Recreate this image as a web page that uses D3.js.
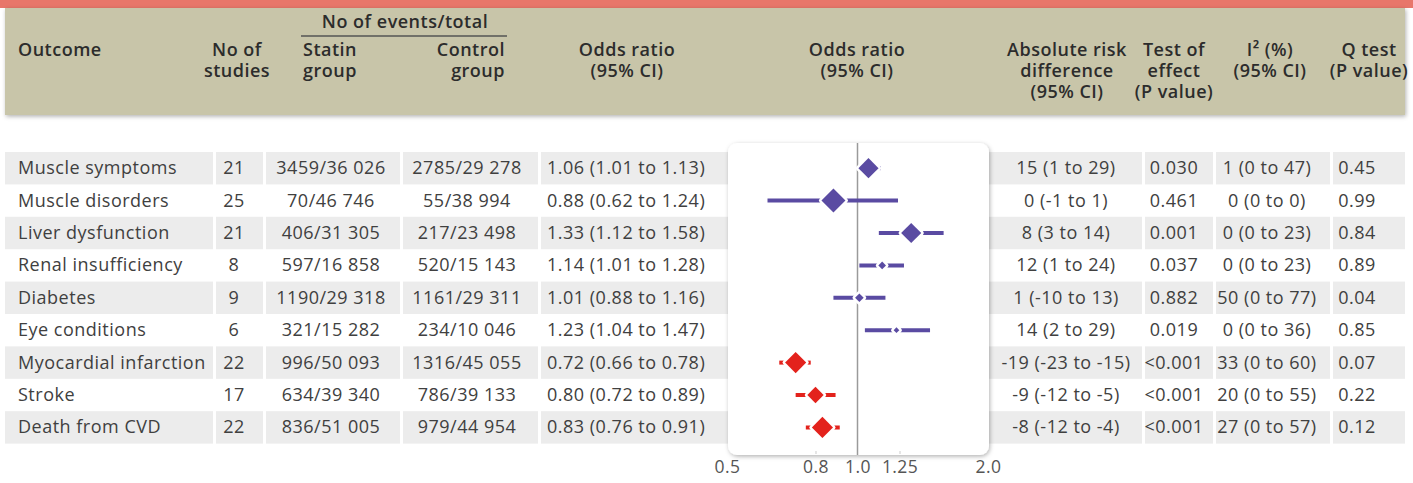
<!DOCTYPE html>
<html>
<head>
<meta charset="utf-8">
<script src="https://cdn.jsdelivr.net/npm/d3@7"></script>
<style>
	body { margin: 0; background: #fff; }
	svg { display: block; font-family: 'Open Sans', sans-serif; }
	.cell { font-size: 18px; fill: #404040; letter-spacing: 0.5px; }
	.head { font-size: 18px; font-weight: 600; fill: #2c2c2c; letter-spacing: 0.5px; }
	.tick text { font-family: 'Open Sans', sans-serif; font-size: 17.5px; fill: #555; letter-spacing: 0.4px; }
</style>
</head>
<body>
<svg id="chart"></svg>
<script>
const outcomes = ['Muscle symptoms', 'Muscle disorders', 'Liver dysfunction', 'Renal insufficiency', 'Diabetes', 'Eye conditions', 'Myocardial infarction', 'Stroke', 'Death from CVD'];
const studies = [21, 25, 21, 8, 9, 6, 22, 17, 22];
const statinEvents = ['3459/36 026', '70/46 746', '406/31 305', '597/16 858', '1190/29 318', '321/15 282', '996/50 093', '634/39 340', '836/51 005'];
const controlEvents = ['2785/29 278', '55/38 994', '217/23 498', '520/15 143', '1161/29 311', '234/10 046', '1316/45 055', '786/39 133', '979/44 954'];
const oddsRatio = [1.06, 0.88, 1.33, 1.14, 1.01, 1.23, 0.72, 0.80, 0.83];
const ciLow = [1.01, 0.62, 1.12, 1.01, 0.88, 1.04, 0.66, 0.72, 0.76];
const ciHigh = [1.13, 1.24, 1.58, 1.28, 1.16, 1.47, 0.78, 0.89, 0.91];
const riskDiff = ['15 (1 to 29)', '0 (-1 to 1)', '8 (3 to 14)', '12 (1 to 24)', '1 (-10 to 13)', '14 (2 to 29)', '-19 (-23 to -15)', '-9 (-12 to -5)', '-8 (-12 to -4)'];
const testOfEffect = ['0.030', '0.461', '0.001', '0.037', '0.882', '0.019', '<0.001', '<0.001', '<0.001'];
const iSquared = ['1 (0 to 47)', '0 (0 to 0)', '0 (0 to 23)', '0 (0 to 23)', '50 (0 to 77)', '0 (0 to 36)', '33 (0 to 60)', '20 (0 to 55)', '27 (0 to 57)'];
const qTest = ['0.45', '0.99', '0.84', '0.89', '0.04', '0.85', '0.07', '0.22', '0.12'];
const kind = ['harm', 'harm', 'harm', 'harm', 'harm', 'harm', 'benefit', 'benefit', 'benefit'];
const axisTicks = [0.5, 0.8, 1.0, 1.25, 2.0];

const fmt2 = d3.format('.2f');
const orLabel = oddsRatio.map((d, i) => `${fmt2(d)} (${fmt2(ciLow[i])} to ${fmt2(ciHigh[i])})`);

const W = 1413;
const H = 483;
const PURPLE = '#5a4ba2';
const RED = '#e3221c';

const svg = d3.select('#chart').attr('width', W).attr('height', H);

const defs = svg.append('defs');
defs.append('filter').attr('id', 'shadow').attr('x', '-10%').attr('y', '-10%').attr('width', '120%').attr('height', '120%')
	.append('feDropShadow').attr('dx', 1).attr('dy', 1.5).attr('stdDeviation', 2)
	.attr('flood-color', '#000').attr('flood-opacity', 0.3);

/** HEADER ******************************************************************/
svg.append('rect').attr('x', 0).attr('y', 0).attr('width', W).attr('height', 8).attr('fill', '#e8766a');
svg.append('rect').attr('x', 5).attr('y', 8).attr('width', 1400).attr('height', 107)
	.attr('fill', '#c8c5a9').attr('filter', 'url(#shadow)');

const headers = [
	{ x: 18, anchor: 'start', lines: ['Outcome'] },
	{ x: 237, anchor: 'middle', lines: ['No of', 'studies'] },
	{ x: 303, anchor: 'start', lines: ['Statin', 'group'] },
	{ x: 505, anchor: 'end', lines: ['Control', 'group'] },
	{ x: 627, anchor: 'middle', lines: ['Odds ratio', '(95% CI)'] },
	{ x: 857, anchor: 'middle', lines: ['Odds ratio', '(95% CI)'] },
	{ x: 1067, anchor: 'middle', lines: ['Absolute risk', 'difference', '(95% CI)'] },
	{ x: 1174, anchor: 'middle', lines: ['Test of', 'effect', '(P value)'] },
	{ x: 1270, anchor: 'middle', lines: ['I² (%)', '(95% CI)'] },
	{ x: 1369, anchor: 'middle', lines: ['Q test', '(P value)'] }
];

const headG = svg.append('g').attr('class', 'head');
headers.forEach((h) => {
	const t = headG.append('text').attr('x', h.x).attr('y', 56).attr('text-anchor', h.anchor);
	h.lines.forEach((line, j) => {
		t.append('tspan').attr('x', h.x).attr('dy', j === 0 ? 0 : 21).text(line);
	});
});
headG.append('text').attr('x', 405).attr('y', 28).attr('text-anchor', 'middle').text('No of events/total');
svg.append('line').attr('x1', 301).attr('x2', 507).attr('y1', 36).attr('y2', 36)
	.attr('stroke', '#555').attr('stroke-width', 1.5);

/** ROWS ********************************************************************/
const y = d3.scaleBand(d3.range(outcomes.length), [152, 152 + 32.4 * outcomes.length]);

const cellSpans = [[5, 213], [216, 263], [266, 400], [403, 538], [541, 740], [980, 1142], [1145, 1213], [1216, 1330], [1333, 1405]];

svg.append('g').selectAll('g')
	.data(d3.range(outcomes.length).filter((i) => i % 2 === 0))
	.join('g')
	.each(function (i) {
		d3.select(this).selectAll('rect').data(cellSpans).join('rect')
			.attr('x', (s) => s[0]).attr('width', (s) => s[1] - s[0])
			.attr('y', y(i)).attr('height', y.bandwidth())
			.attr('fill', '#ececec');
	});

const columns = [
	{ values: outcomes, x: 18, anchor: 'start' },
	{ values: studies, x: 234, anchor: 'middle' },
	{ values: statinEvents, x: 331, anchor: 'middle' },
	{ values: controlEvents, x: 467, anchor: 'middle' },
	{ values: orLabel, x: 547, anchor: 'start' },
	{ values: riskDiff, x: 1066, anchor: 'middle' },
	{ values: testOfEffect, x: 1174, anchor: 'middle' },
	{ values: iSquared, x: 1267, anchor: 'middle' },
	{ values: qTest, x: 1357, anchor: 'middle' }
];

const textG = svg.append('g').attr('class', 'cell');
columns.forEach((c) => {
	textG.append('g').selectAll('text').data(c.values).join('text')
		.attr('x', c.x)
		.attr('y', (d, i) => y(i) + y.bandwidth() / 2 + 6)
		.attr('text-anchor', c.anchor)
		.text((d) => d);
});

/** FOREST PLOT *************************************************************/
const x = d3.scaleLog([0.5, 2], [727, 988]);
const size = d3.scaleLinear([0, 25], [0, 12]);

svg.append('rect').attr('x', 728).attr('y', 143).attr('width', 261).attr('height', 312)
	.attr('rx', 9).attr('fill', '#fff').attr('filter', 'url(#shadow)');

svg.append('line').attr('x1', x(1)).attr('x2', x(1)).attr('y1', 143).attr('y2', 455)
	.attr('stroke', '#9a9a9a').attr('stroke-width', 1.5);

const axis = d3.axisBottom(x).tickValues(axisTicks).tickSize(3).tickPadding(7)
	.tickFormat((d) => (d === 1.25 ? '1.25' : d3.format('.1f')(d)));
const axisG = svg.append('g').attr('transform', 'translate(0, 451)').call(axis);
axisG.select('.domain').remove();
axisG.selectAll('.tick line').attr('stroke', '#ccc')
	.attr('opacity', (d) => (d === 0.8 || d === 1.25 ? 1 : 0));

const plotG = svg.append('g');
plotG.selectAll('line.ci').data(outcomes).join('line')
	.attr('class', 'ci')
	.attr('x1', (d, i) => x(ciLow[i])).attr('x2', (d, i) => x(ciHigh[i]))
	.attr('y1', (d, i) => y(i) + y.bandwidth() / 2).attr('y2', (d, i) => y(i) + y.bandwidth() / 2)
	.attr('stroke', (d, i) => (kind[i] === 'harm' ? PURPLE : RED))
	.attr('stroke-width', 4);

plotG.selectAll('path.est').data(outcomes).join('path')
	.attr('class', 'est')
	.attr('d', (d, i) => {
		const cx = x(oddsRatio[i]);
		const cy = y(i) + y.bandwidth() / 2;
		const r = size(studies[i]);
		return `M${cx - r},${cy}L${cx},${cy - r}L${cx + r},${cy}L${cx},${cy + r}Z`;
	})
	.attr('fill', (d, i) => (kind[i] === 'harm' ? PURPLE : RED))
	.attr('stroke', '#fff')
	.attr('stroke-width', 5)
	.attr('stroke-linejoin', 'round')
	.attr('paint-order', 'stroke');
</script>
</body>
</html>
